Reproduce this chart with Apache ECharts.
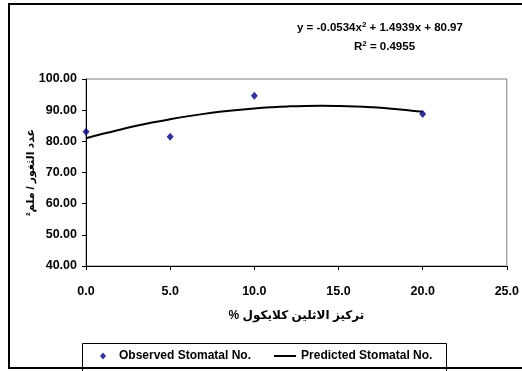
<!DOCTYPE html>
<html><head><meta charset="utf-8">
<script src="https://cdn.jsdelivr.net/npm/echarts@6/dist/echarts.min.js"></script>
<style>html,body{margin:0;padding:0;background:#fff}#c{width:522px;height:371px}</style>
</head><body><div id="c"></div>
<script>
var obsX = [0, 5, 10, 20];
var obsY = [83.1, 81.5, 94.65, 88.8];
var predX = [0,1,2,3,4,5,6,7,8,9,10,11,12,13,14,15,16,17,18,19,20];
var predY = [80.97,82.41,83.74,84.97,86.09,87.10,88.01,88.81,89.50,90.09,90.57,90.94,91.21,91.37,91.42,91.36,91.20,90.93,90.56,90.08,89.49];
var xTicks = {min: 0, max: 25, interval: 5};
var yTicks = {min: 40, max: 100, interval: 10};
var seriesNames = ['Observed Stomatal No.', 'Predicted Stomatal No.'];
var xTitle = 'تركيز الاثلين كلايكول %';
var yTitle = 'عدد الثغور / ملم²';
var eqLine1 = ['y = -0.0534x', '2', ' + 1.4939x + 80.97'];
var eqLine2 = ['R', '2', ' = 0.4955'];

var FF = '"Liberation Sans", Arial, "DejaVu Sans", sans-serif';
var RLM = '\u200F';
function zip(a, b){ return a.map(function(v,i){ return [v, b[i]]; }); }

var chart = echarts.init(document.getElementById('c'), null, {renderer:'canvas'});
chart.setOption({
  animation: false,
  backgroundColor: '#fff',
  textStyle: {fontFamily: FF},
  grid: {left: 86, top: 79, right: 11, bottom: 105, show: true, borderColor: '#808080', borderWidth: 1, backgroundColor: 'transparent'},
  xAxis: {
    type: 'value', min: xTicks.min, max: xTicks.max, interval: xTicks.interval,
    axisLine: {show: true, onZero: false, lineStyle: {color: '#000', width: 1}},
    axisTick: {show: true, inside: false, length: 4, lineStyle: {color: '#000'}},
    splitLine: {show: false},
    axisLabel: {formatter: function(v){ return v.toFixed(1); }, color: '#000', fontWeight: 'bold', fontSize: 12.5, fontFamily: FF, margin: 19},
    name: xTitle + RLM, nameLocation: 'middle', nameGap: 44, nameMoveOverlap: false,
    nameTextStyle: {color: '#000', fontWeight: 'bold', fontSize: 12, fontFamily: FF}
  },
  yAxis: {
    type: 'value', min: yTicks.min, max: yTicks.max, interval: yTicks.interval,
    axisLine: {show: true, onZero: false, lineStyle: {color: '#000', width: 1}},
    axisTick: {show: true, inside: false, length: 4, lineStyle: {color: '#000'}},
    splitLine: {show: false},
    axisLabel: {formatter: function(v){ return v.toFixed(2); }, color: '#000', fontWeight: 'bold', fontSize: 12.5, fontFamily: FF, margin: 9},
    name: yTitle + RLM, nameLocation: 'middle', nameRotate: 90, nameGap: 50, nameMoveOverlap: false,
    nameTextStyle: {color: '#000', fontWeight: 'bold', fontSize: 11, fontFamily: FF}
  },
  legend: {
    left: 92, top: 350, itemGap: 23, itemWidth: 22, itemHeight: 8,
    padding: 0,
    textStyle: {color: '#000', fontWeight: 'bold', fontSize: 12, fontFamily: FF},
    data: [
      {name: seriesNames[0], icon: 'path://M0,0 L0.01,0 L0,0.01 Z M8,4 L11,0.5 L14,4 L11,7.5 Z M22,8 L21.99,8 L22,7.99 Z', itemStyle: {color: '#000080'}},
      {name: seriesNames[1], icon: 'path://M0,0 L0.01,0 L0,0.01 Z M0,3 L22,3 L22,5 L0,5 Z M22,8 L21.99,8 L22,7.99 Z', itemStyle: {color: '#000'}}
    ]
  },
  graphic: [
    {type: 'rect', shape: {x: 9, y: 4, width: 600, height: 364}, style: {fill: 'none', stroke: '#000', lineWidth: 2}, z: 0, silent: true},
    {type: 'rect', shape: {x: 82.5, y: 343.5, width: 364, height: 30}, style: {fill: '#fff', stroke: '#000', lineWidth: 1}, z: -1, silent: true},
    {type: 'text', left: 297, top: 21, style: {
      text: '{a|' + eqLine1[0] + '}{s|' + eqLine1[1] + '}{a|' + eqLine1[2] + '}',
      rich: {a: {fontSize: 11.5, fontWeight: 'bold', fontFamily: FF, fill: '#000'}, s: {fontSize: 8, fontWeight: 'bold', fontFamily: FF, fill: '#000', verticalAlign: 'top', padding: [0,0,6,0]}}
    }},
    {type: 'text', left: 354, top: 40, style: {
      text: '{a|' + eqLine2[0] + '}{s|' + eqLine2[1] + '}{a|' + eqLine2[2] + '}',
      rich: {a: {fontSize: 11.5, fontWeight: 'bold', fontFamily: FF, fill: '#000'}, s: {fontSize: 8, fontWeight: 'bold', fontFamily: FF, fill: '#000', verticalAlign: 'top', padding: [0,0,6,0]}}
    }}
  ],
  series: [
    {name: seriesNames[0], type: 'scatter', data: zip(obsX, obsY), symbol: 'diamond', symbolSize: [7, 8], itemStyle: {color: '#000080'}, z: 3},
    {name: seriesNames[1], type: 'line', data: zip(predX, predY), smooth: true, showSymbol: false, symbol: 'none', lineStyle: {color: '#000', width: 2}, itemStyle: {color: '#000'}, z: 2}
  ]
});
</script></body></html>
